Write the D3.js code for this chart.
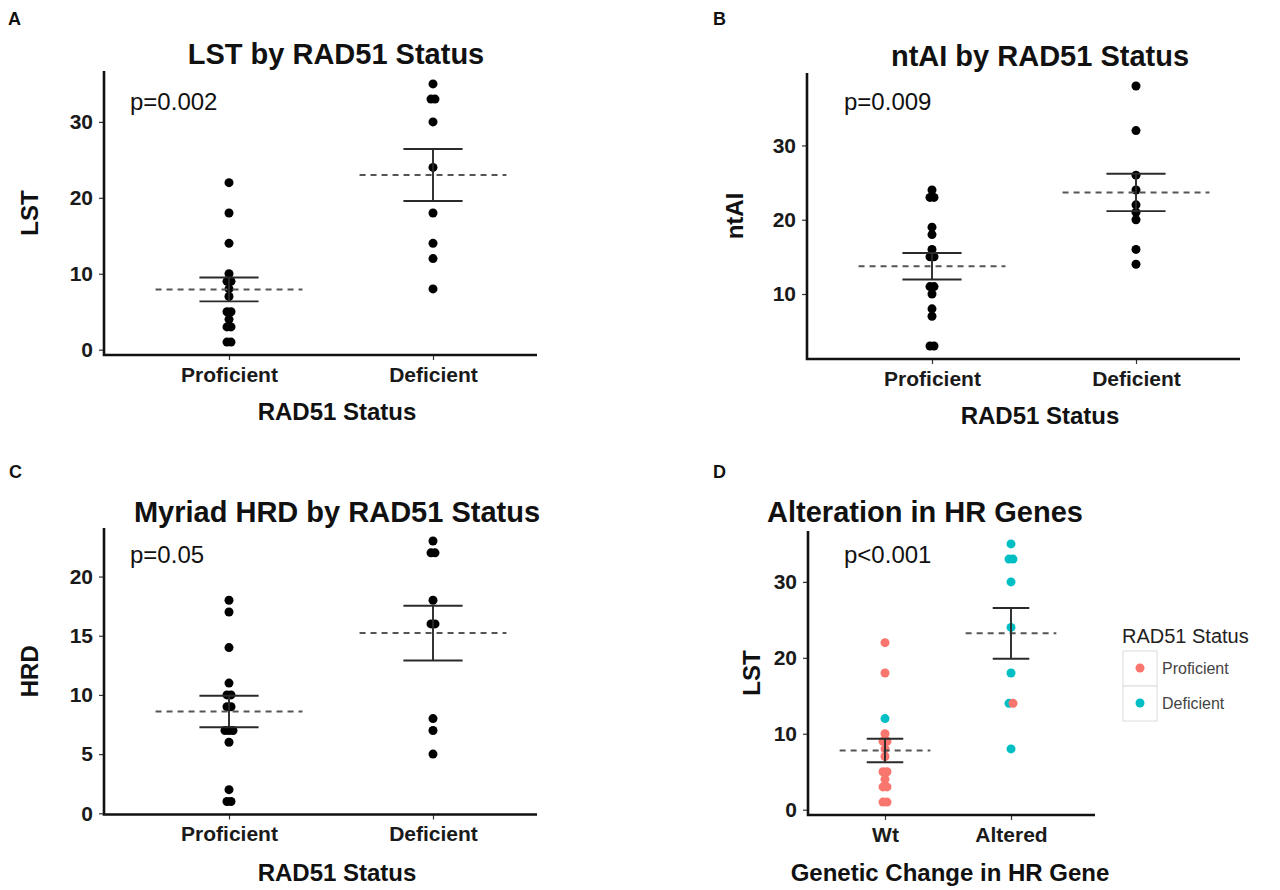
<!DOCTYPE html>
<html>
<head>
<meta charset="utf-8">
<script src="https://cdn.jsdelivr.net/npm/d3@7"></script>
<style>
  html, body { margin: 0; padding: 0; background: #fff; }
  svg { display: block; font-family: "Liberation Sans", Arial, Helvetica, sans-serif; }
</style>
</head>
<body>
<svg id="chart" width="1280" height="890"></svg>
<script>
// ---------------- DATA ----------------
const statusCategories = ["Proficient", "Deficient"];
const geneCategories = ["Wt", "Altered"];

// Panel A: LST by RAD51 status
const lstProficient = [22, 18, 14, 10, 9, 9, 8, 7, 5, 5, 4, 3, 3, 1, 1];
const lstDeficient  = [35, 33, 33, 30, 24, 18, 14, 12, 8];

// Panel B: ntAI by RAD51 status
const ntaiProficient = [24, 23, 23, 19, 18, 16, 15, 15, 11, 11, 10, 8, 7, 3, 3];
const ntaiDeficient  = [38, 32, 26, 24, 22, 21, 20, 16, 14];

// Panel C: Myriad HRD by RAD51 status
const hrdProficient = [18, 17, 14, 11, 10, 10, 9, 9, 7, 7, 7, 6, 2, 1, 1];
const hrdDeficient  = [23, 22, 22, 18, 16, 16, 8, 7, 5];

// Panel D: LST by alteration in HR genes, coloured by RAD51 status
const lstWt             = [22, 18, 12, 10, 9, 9, 8, 7, 5, 5, 4, 3, 3, 1, 1];
const lstWtStatus       = ["Proficient", "Proficient", "Deficient", "Proficient", "Proficient", "Proficient", "Proficient", "Proficient", "Proficient", "Proficient", "Proficient", "Proficient", "Proficient", "Proficient", "Proficient"];
const lstAltered        = [35, 33, 33, 30, 24, 18, 14, 14, 8];
const lstAlteredStatus  = ["Deficient", "Deficient", "Deficient", "Deficient", "Deficient", "Deficient", "Deficient", "Proficient", "Deficient"];

const ticksA = [0, 10, 20, 30];
const ticksB = [10, 20, 30];
const ticksC = [0, 5, 10, 15, 20];
const ticksD = [0, 10, 20, 30];

const panelLetters = ["A", "B", "C", "D"];
const panelTitles = ["LST by RAD51 Status", "ntAI by RAD51 Status", "Myriad HRD by RAD51 Status", "Alteration in HR Genes"];
const pLabels = ["p=0.002", "p=0.009", "p=0.05", "p<0.001"];
const yTitles = ["LST", "ntAI", "HRD", "LST"];
const xTitles = ["RAD51 Status", "RAD51 Status", "RAD51 Status", "Genetic Change in HR Gene"];
const legendTitle = "RAD51 Status";
const legendKeys = ["Proficient", "Deficient"];

// ---------------- STYLE / LAYOUT ----------------
const statusColor = d3.scaleOrdinal().domain(legendKeys).range(["#F8766D", "#00BFC4"]);
const FONT = '"Liberation Sans", Arial, Helvetica, sans-serif';

const svg = d3.select("#chart");

const panels = [
  { letter: panelLetters[0], title: panelTitles[0], p: pLabels[0], yTitle: yTitles[0], xTitle: xTitles[0],
    cats: statusCategories, groups: [lstProficient, lstDeficient], colors: null, ticks: ticksA,
    axisX: 104, axisRight: 537, pts: [229, 433], yRange: [355, 71],
    letterPos: [8, 25], titleX: 336, titleY: 64, pPos: [130, 110], yTitleX: 38, xTitleX: 337, xTitleY: 420 },
  { letter: panelLetters[1], title: panelTitles[1], p: pLabels[1], yTitle: yTitles[1], xTitle: xTitles[1],
    cats: statusCategories, groups: [ntaiProficient, ntaiDeficient], colors: null, ticks: ticksB,
    axisX: 807, axisRight: 1240, pts: [932, 1136], yRange: [359, 73],
    letterPos: [713, 25], titleX: 1040, titleY: 66, pPos: [844, 110], yTitleX: 743, xTitleX: 1040, xTitleY: 424 },
  { letter: panelLetters[2], title: panelTitles[2], p: pLabels[2], yTitle: yTitles[2], xTitle: xTitles[2],
    cats: statusCategories, groups: [hrdProficient, hrdDeficient], colors: null, ticks: ticksC,
    axisX: 104, axisRight: 537, pts: [229, 433], yRange: [814.5, 528],
    letterPos: [9, 478], titleX: 337, titleY: 522, pPos: [130, 563], yTitleX: 38, xTitleX: 337, xTitleY: 881 },
  { letter: panelLetters[3], title: panelTitles[3], p: pLabels[3], yTitle: yTitles[3], xTitle: xTitles[3],
    cats: geneCategories, groups: [lstWt, lstAltered], colors: [lstWtStatus, lstAlteredStatus], ticks: ticksD,
    axisX: 808, axisRight: 1095, pts: [885, 1011], yRange: [815, 531],
    letterPos: [713, 478], titleX: 925, titleY: 522, pPos: [844, 563], yTitleX: 760, xTitleX: 950, xTitleY: 881 }
];

panels.forEach(P => {
  const g = svg.append("g");
  const all = P.groups.flat();
  const ext = d3.extent(all);
  const pad = (ext[1] - ext[0]) * 0.05;
  const y = d3.scaleLinear().domain([ext[0] - pad, ext[1] + pad]).range(P.yRange);
  const x = d3.scalePoint().domain(P.cats).range(P.pts);
  const step = P.pts[1] - P.pts[0];
  const yBottom = P.yRange[0], yTop = P.yRange[1];

  // panel letter
  g.append("text").attr("x", P.letterPos[0]).attr("y", P.letterPos[1])
    .attr("font-size", 18).attr("font-weight", "bold").attr("fill", "#111").text(P.letter);

  // title
  g.append("text").attr("x", P.titleX).attr("y", P.titleY).attr("text-anchor", "middle")
    .attr("font-size", 29).attr("font-weight", "bold").attr("fill", "#111").text(P.title);

  // y axis
  const yAxis = d3.axisLeft(y).tickValues(P.ticks).tickSize(5).tickPadding(6).tickFormat(d3.format("d"));
  const ya = g.append("g").attr("transform", `translate(${P.axisX},0)`).call(yAxis);
  ya.select(".domain").remove();
  ya.selectAll(".tick line").attr("stroke", "#333").attr("stroke-width", 1.2);
  ya.selectAll(".tick text").attr("font-size", 21).attr("font-weight", "bold").attr("fill", "#1a1a1a")
    .attr("font-family", FONT);

  // x axis
  const xAxis = d3.axisBottom(x).tickSize(5).tickPadding(7);
  const xa = g.append("g").attr("transform", `translate(0,${yBottom})`).call(xAxis);
  xa.select(".domain").remove();
  xa.selectAll(".tick line").attr("stroke", "#333").attr("stroke-width", 1.2);
  xa.selectAll(".tick text").attr("font-size", 21).attr("font-weight", "bold").attr("fill", "#1a1a1a")
    .attr("font-family", FONT);

  // axis lines
  g.append("path")
    .attr("d", `M${P.axisX},${yTop}V${yBottom}H${P.axisRight}`)
    .attr("fill", "none").attr("stroke", "#111").attr("stroke-width", 2.6);

  // axis titles
  g.append("text").attr("transform", `translate(${P.yTitleX},${(yTop + yBottom) / 2}) rotate(-90)`)
    .attr("text-anchor", "middle").attr("font-size", 24).attr("font-weight", "bold").attr("fill", "#111").text(P.yTitle);
  g.append("text").attr("x", P.xTitleX).attr("y", P.xTitleY)
    .attr("text-anchor", "middle").attr("font-size", 24).attr("font-weight", "bold").attr("fill", "#111").text(P.xTitle);

  // p-value
  g.append("text").attr("x", P.pPos[0]).attr("y", P.pPos[1])
    .attr("font-size", 24).attr("fill", "#111").text(P.p);

  // points
  P.groups.forEach((vals, gi) => {
    const cx = x(P.cats[gi]);
    const seen = {};
    const counts = {};
    vals.forEach(v => counts[v] = (counts[v] || 0) + 1);
    const pts = vals.map((v, i) => {
      const k = seen[v] || 0; seen[v] = k + 1;
      const off = (k - (counts[v] - 1) / 2) * 4;
      return { v, off, c: P.colors ? statusColor(P.colors[gi][i]) : "#000" };
    });
    g.append("g").selectAll("circle").data(pts).join("circle")
      .attr("cx", d => cx + d.off).attr("cy", d => y(d.v)).attr("r", 4.5)
      .attr("fill", d => d.c);

    // mean and SE
    const m = d3.mean(vals);
    const se = d3.deviation(vals) / Math.sqrt(vals.length);
    g.append("line").attr("x1", cx - step * 0.36).attr("x2", cx + step * 0.36)
      .attr("y1", y(m)).attr("y2", y(m))
      .attr("stroke", "#555").attr("stroke-width", 2).attr("stroke-dasharray", "6,5");
    const eb = g.append("g").attr("stroke", "#2a2a2a").attr("stroke-width", 1.9);
    eb.append("line").attr("x1", cx).attr("x2", cx).attr("y1", y(m - se)).attr("y2", y(m + se));
    [m - se, m + se].forEach(v => {
      eb.append("line").attr("x1", cx - step * 0.145).attr("x2", cx + step * 0.145)
        .attr("y1", y(v)).attr("y2", y(v));
    });
  });
});

// legend for panel D
const lg = svg.append("g");
lg.append("text").attr("x", 1122).attr("y", 643).attr("font-size", 20).attr("fill", "#222").text(legendTitle);
legendKeys.forEach((k, i) => {
  const top = 651 + i * 35;
  lg.append("rect").attr("x", 1123).attr("y", top).attr("width", 34).attr("height", 35)
    .attr("fill", "#fff").attr("stroke", "#dcdcdc").attr("stroke-width", 1);
  lg.append("circle").attr("cx", 1140).attr("cy", top + 17).attr("r", 4.5).attr("fill", statusColor(k));
  lg.append("text").attr("x", 1162).attr("y", top + 23).attr("font-size", 16).attr("fill", "#444").text(k);
});
</script>
</body>
</html>
